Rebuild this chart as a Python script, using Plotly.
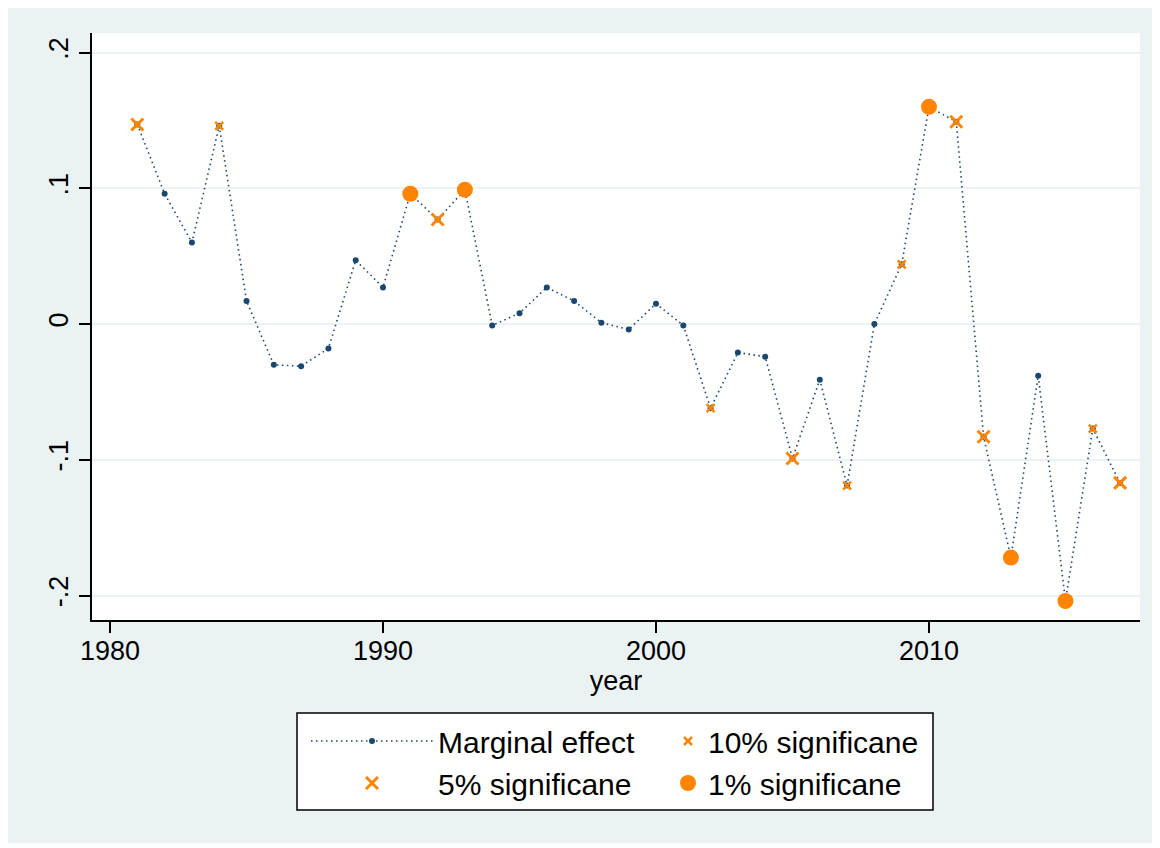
"""
Marginal effect by year with significance markers
"""

import plotly.graph_objects as go
from typing import Dict, List


class MarginalEffectChart:
    """Build the marginal effect chart in a Stata-like s2color look"""

    def __init__(self):
        """Initialize colours and fonts"""
        self.color_scheme = {
            'line': '#1a476f',
            'signif': '#ff8400',
            'background': '#eaf2f3',
            'grid': '#eaf2f3',
        }
        self.font = "Arial, Liberation Sans, sans-serif"

    def create_chart(self, years: List[int], effects: List[float], signif: Dict[int, str]) -> go.Figure:
        """
        Create the marginal effect chart

        Args:
            years: list of years
            effects: marginal effect for each year
            signif: mapping year -> '10', '5' or '1' (significance level)

        Returns:
            Plotly figure object
        """
        fig = go.Figure()

        # Dotted line with small dots (left legend column)
        fig.add_trace(go.Scatter(
            x=years,
            y=effects,
            mode='lines+markers',
            name='Marginal effect',
            legend='legend',
            line=dict(color=self.color_scheme['line'], width=1.6, dash='1.5px,3.5px'),
            marker=dict(color=self.color_scheme['line'], size=6)
        ))

        # Significance overlays: (level, label, symbol, size, legend column)
        styles = [
            ('5', '5% significane', 'x-thin', 12, 'legend'),
            ('10', '10% significane', 'x-thin', 8, 'legend2'),
            ('1', '1% significane', 'circle', 16, 'legend2'),
        ]
        for level, label, symbol, size, legend in styles:
            xs = [y for y, e in zip(years, effects) if signif.get(y) == level]
            ys = [e for y, e in zip(years, effects) if signif.get(y) == level]
            marker = dict(color=self.color_scheme['signif'], size=size, symbol=symbol)
            if symbol == 'x-thin':
                marker['line'] = dict(color=self.color_scheme['signif'], width=3 if level == '5' else 2.5)
            fig.add_trace(go.Scatter(x=xs, y=ys, mode='markers', name=label, legend=legend, marker=marker))

        # White plot region and legend box
        fig.add_shape(
            type='rect', xref='paper', yref='paper', layer='below',
            x0=0, x1=1, y0=0, y1=1,
            fillcolor='white', line=dict(width=0)
        )
        fig.add_shape(
            type='rect', xref='paper', yref='paper', layer='below',
            x0=(297 - 92) / 1048, x1=(933 - 92) / 1048,
            y0=(620 - 810) / 587, y1=(620 - 713) / 587,
            fillcolor='white', line=dict(color='black', width=1.5)
        )

        legend_style = dict(
            orientation='v',
            yanchor='top',
            xanchor='left',
            bgcolor='rgba(0,0,0,0)',
            borderwidth=0,
            tracegroupgap=0,
            font=dict(size=30),
        )

        fig.update_layout(
            width=1146,
            height=835,
            margin=dict(l=84, r=14, t=25, b=223),
            paper_bgcolor=self.color_scheme['background'],
            plot_bgcolor='white',
            font=dict(family=self.font, size=27, color='black'),
            showlegend=True,
            legend=dict(x=(306 - 92) / 1048, y=(620 - 715) / 587, itemwidth=122, **legend_style),
            legend2=dict(x=(668 - 92) / 1048, y=(620 - 715) / 587, itemwidth=30, **legend_style),
            xaxis=dict(
                title=dict(text='year', standoff=6, font=dict(size=27)),
                range=[1979.34, 2017.73],
                tickvals=[1980, 1990, 2000, 2010],
                ticklabelstandoff=-5,
                showgrid=False,
                zeroline=False,
                showline=True,
                linecolor='black',
                linewidth=2,
                ticks='outside',
                ticklen=11,
                tickwidth=1.5,
                tickcolor='black',
            ),
            yaxis=dict(
                range=[-0.218, 0.2144],
                tickvals=[-0.2, -0.1, 0, 0.1, 0.2],
                ticktext=['-.2', '-.1', '0', '.1', '.2'],
                tickangle=-90,
                showgrid=True,
                gridcolor=self.color_scheme['grid'],
                gridwidth=2,
                zeroline=False,
                showline=True,
                linecolor='black',
                linewidth=2,
                ticks='outside',
                ticklen=11,
                tickwidth=1.5,
                tickcolor='black',
            ),
        )

        return fig


years = list(range(1981, 2018))
effects = [
    0.147, 0.096, 0.060, 0.146, 0.017, -0.030, -0.031, -0.018, 0.047, 0.027,  # 1981-1990
    0.096, 0.077, 0.099, -0.001, 0.008, 0.027, 0.017, 0.001, -0.004, 0.015,  # 1991-2000
    -0.001, -0.062, -0.021, -0.024, -0.099, -0.041, -0.119, 0.000, 0.044, 0.160,  # 2001-2010
    0.149, -0.083, -0.172, -0.038, -0.204, -0.077, -0.117,  # 2011-2017
]
signif = {
    1981: '5', 1984: '10', 1991: '1', 1992: '5', 1993: '1',
    2002: '10', 2005: '5', 2007: '10', 2009: '10', 2010: '1',
    2011: '5', 2012: '5', 2013: '1', 2015: '1', 2016: '10', 2017: '5',
}

chart = MarginalEffectChart()
fig = chart.create_chart(years, effects, signif)
fig.write_html("out.html")
